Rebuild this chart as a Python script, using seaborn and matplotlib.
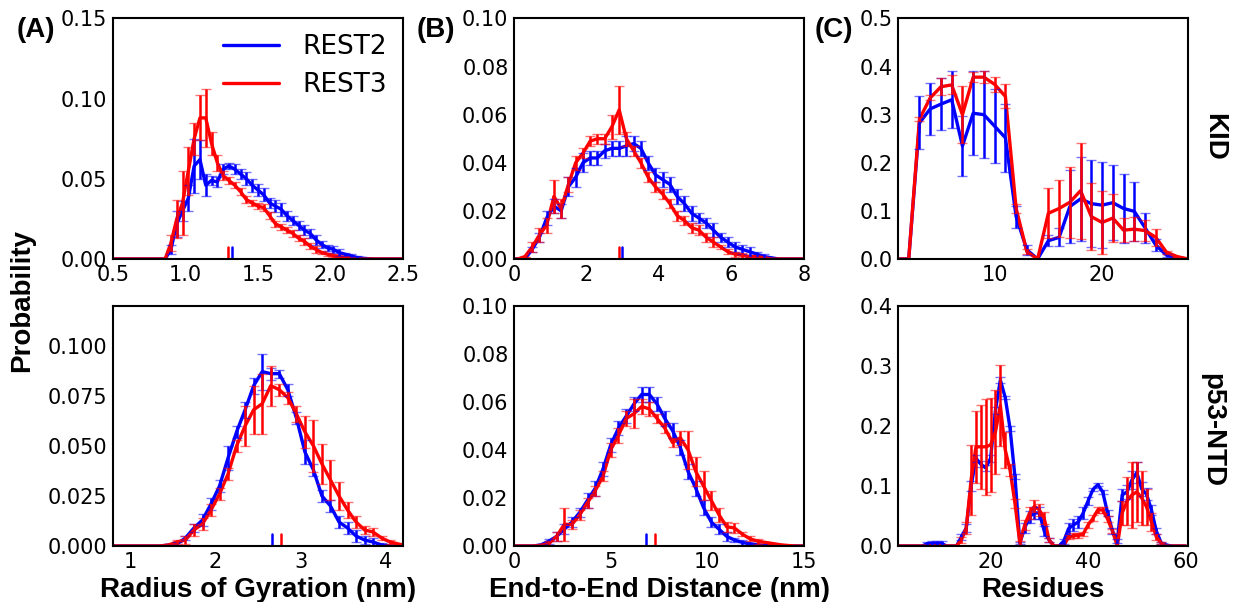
import numpy as np
import pandas as pd
import matplotlib
matplotlib.use("Agg")
import matplotlib.pyplot as plt
import seaborn as sns

# ---- KID, radius of gyration (nm)
kid_rg_x = [0.50, 0.82, 0.86, 0.90, 0.94, 0.98, 1.02, 1.06, 1.10, 1.14, 1.18, 1.22, 1.26,
            1.30, 1.34, 1.38, 1.42, 1.46, 1.50, 1.54, 1.58, 1.62, 1.66, 1.70, 1.74, 1.78,
            1.82, 1.86, 1.90, 1.94, 1.98, 2.02, 2.06, 2.10, 2.14, 2.18, 2.22, 2.26, 2.30, 2.50]
kid_rg_rest2 = [0, 0, 0, 0.006, 0.022, 0.030, 0.038, 0.058, 0.062, 0.046, 0.049, 0.048, 0.056,
                0.058, 0.056, 0.053, 0.050, 0.046, 0.043, 0.040, 0.035, 0.033, 0.031, 0.027, 0.024, 0.021,
                0.018, 0.016, 0.012, 0.009, 0.007, 0.006, 0.004, 0.003, 0.002, 0.001, 0.0005, 0.0002, 0, 0]
kid_rg_rest2_err = [0, 0, 0, 0.003, 0.008, 0.006, 0.008, 0.017, 0.012, 0.007, 0.003, 0.003, 0.003,
                    0.002, 0.003, 0.003, 0.004, 0.004, 0.004, 0.004, 0.003, 0.004, 0.004, 0.003, 0.003, 0.003,
                    0.003, 0.003, 0.003, 0.002, 0.002, 0.002, 0.002, 0.001, 0.001, 0.001, 0, 0, 0, 0]
kid_rg_rest3 = [0, 0, 0, 0.010, 0.025, 0.035, 0.055, 0.075, 0.088, 0.088, 0.072, 0.060, 0.052,
                0.049, 0.046, 0.042, 0.037, 0.035, 0.033, 0.032, 0.027, 0.022, 0.020, 0.018, 0.016, 0.013,
                0.011, 0.008, 0.006, 0.004, 0.003, 0.002, 0.0015, 0.001, 0.0005, 0, 0, 0, 0, 0]
kid_rg_rest3_err = [0, 0, 0, 0.005, 0.012, 0.020, 0.015, 0.010, 0.014, 0.018, 0.007, 0.005, 0.003,
                    0.002, 0.002, 0.002, 0.002, 0.002, 0.002, 0.002, 0.002, 0.002, 0.002, 0.002, 0.002, 0.002,
                    0.002, 0.002, 0.002, 0.001, 0.001, 0.001, 0, 0, 0, 0, 0, 0, 0, 0]

# ---- KID, end-to-end distance (nm)
kid_ee_x = [0.0, 0.1, 0.3, 0.5, 0.7, 0.9, 1.1, 1.3, 1.5, 1.7, 1.9, 2.1, 2.3, 2.5, 2.7, 2.9, 3.1,
            3.3, 3.5, 3.7, 3.9, 4.1, 4.3, 4.5, 4.7, 4.9, 5.1, 5.3, 5.5, 5.7, 5.9, 6.1, 6.3,
            6.5, 6.7, 6.9, 7.1, 7.3, 8.0]
kid_ee_rest2 = [0, 0, 0, 0.004, 0.009, 0.017, 0.022, 0.020, 0.030, 0.034, 0.040, 0.042, 0.042,
                0.045, 0.046, 0.046, 0.047, 0.048, 0.046, 0.040, 0.035, 0.033, 0.031, 0.026, 0.023,
                0.019, 0.017, 0.015, 0.012, 0.009, 0.007, 0.005, 0.004, 0.003, 0.002, 0.001, 0.0005, 0, 0]
kid_ee_rest2_err = [0, 0, 0, 0.001, 0.002, 0.003, 0.003, 0.003, 0.004, 0.004, 0.004, 0.003, 0.003,
                    0.003, 0.003, 0.003, 0.004, 0.003, 0.003, 0.003, 0.003, 0.003, 0.003, 0.003, 0.003,
                    0.003, 0.002, 0.002, 0.003, 0.002, 0.002, 0.002, 0.002, 0.002, 0.001, 0.001, 0, 0, 0]
kid_ee_rest3 = [0, 0, 0.001, 0.005, 0.010, 0.014, 0.026, 0.021, 0.031, 0.040, 0.044, 0.049, 0.050,
                0.050, 0.055, 0.062, 0.050, 0.045, 0.040, 0.034, 0.030, 0.027, 0.023, 0.018, 0.016,
                0.013, 0.012, 0.009, 0.007, 0.005, 0.003, 0.002, 0.0015, 0.001, 0.001, 0.0005, 0, 0, 0]
kid_ee_rest3_err = [0, 0, 0, 0.002, 0.003, 0.003, 0.007, 0.004, 0.003, 0.003, 0.002, 0.002, 0.002,
                    0.002, 0.005, 0.010, 0.003, 0.002, 0.002, 0.002, 0.002, 0.002, 0.002, 0.002, 0.002,
                    0.002, 0.002, 0.002, 0.002, 0.001, 0.001, 0.001, 0.001, 0, 0, 0, 0, 0, 0]

# ---- KID, per-residue helicity
kid_res_x = list(range(1, 29))
kid_res_rest2 = [0, 0, 0.283, 0.312, 0.322, 0.331, 0.235, 0.303, 0.300, 0.276, 0.252, 0.088, 0.019, 0,
                 0.038, 0.045, 0.109, 0.125, 0.115, 0.112, 0.117, 0.105, 0.099, 0.065, 0.029, 0.008, 0.002, 0]
kid_res_rest2_err = [0, 0, 0.055, 0.054, 0.054, 0.059, 0.062, 0.087, 0.091, 0.077, 0.071, 0.023, 0.010, 0,
                     0.012, 0.019, 0.075, 0.087, 0.090, 0.089, 0.078, 0.071, 0.061, 0.031, 0.013, 0.003, 0, 0]
kid_res_rest3 = [0, 0, 0.291, 0.335, 0.358, 0.362, 0.300, 0.378, 0.378, 0.363, 0.338, 0.105, 0.015, 0,
                 0.095, 0.105, 0.118, 0.142, 0.088, 0.076, 0.085, 0.060, 0.062, 0.059, 0.045, 0.014, 0.005, 0]
kid_res_rest3_err = [0, 0, 0.005, 0.005, 0.018, 0.020, 0.059, 0.010, 0.012, 0.016, 0.025, 0.010, 0.005, 0,
                     0.052, 0.060, 0.074, 0.100, 0.070, 0.065, 0.050, 0.025, 0.025, 0.022, 0.018, 0.003, 0, 0]

# ---- p53-NTD, radius of gyration (nm)
p53_rg_x = [0.80, 1.35, 1.45, 1.55, 1.65, 1.75, 1.85, 1.95, 2.05, 2.15, 2.25, 2.35, 2.45, 2.55,
            2.65, 2.75, 2.85, 2.95, 3.05, 3.15, 3.25, 3.35, 3.45, 3.55, 3.65, 3.75, 3.85, 3.95,
            4.05, 4.15, 4.20]
p53_rg_rest2 = [0, 0, 0.0005, 0.001, 0.004, 0.009, 0.013, 0.021, 0.030, 0.044, 0.057, 0.068, 0.080, 0.087,
                0.086, 0.086, 0.078, 0.064, 0.047, 0.038, 0.025, 0.020, 0.012, 0.009, 0.005, 0.003, 0.002,
                0.0005, 0, 0, 0]
p53_rg_rest2_err = [0, 0, 0, 0.001, 0.001, 0.002, 0.003, 0.003, 0.003, 0.006, 0.003, 0.004, 0.004, 0.009,
                    0.003, 0.002, 0.003, 0.003, 0.006, 0.003, 0.003, 0.003, 0.003, 0.003, 0.003, 0.002, 0.002,
                    0.001, 0, 0, 0]
p53_rg_rest3 = [0, 0, 0.0005, 0.002, 0.003, 0.008, 0.011, 0.018, 0.026, 0.036, 0.050, 0.060, 0.068, 0.071,
                0.080, 0.078, 0.074, 0.066, 0.057, 0.050, 0.041, 0.033, 0.025, 0.018, 0.012, 0.008, 0.007,
                0.004, 0.002, 0.001, 0.0005]
p53_rg_rest3_err = [0, 0, 0, 0.001, 0.002, 0.003, 0.003, 0.003, 0.003, 0.003, 0.003, 0.010, 0.012, 0.015,
                    0.010, 0.003, 0.003, 0.004, 0.008, 0.013, 0.010, 0.010, 0.007, 0.004, 0.003, 0.002, 0.002,
                    0.001, 0.001, 0, 0]

# ---- p53-NTD, end-to-end distance (nm)
p53_ee_x = [0.0, 0.6, 1.0, 1.4, 1.8, 2.2, 2.6, 3.0, 3.4, 3.8, 4.2, 4.6, 5.0, 5.4, 5.8, 6.2, 6.6,
            7.0, 7.4, 7.8, 8.2, 8.6, 9.0, 9.4, 9.8, 10.2, 10.6, 11.0, 11.4, 11.8, 12.2, 12.6,
            13.0, 13.4, 13.8, 14.2, 14.6, 15.0]
p53_ee_rest2 = [0, 0, 0, 0.0005, 0.002, 0.004, 0.007, 0.010, 0.014, 0.019, 0.024, 0.032, 0.042, 0.049,
                0.054, 0.059, 0.063, 0.063, 0.059, 0.053, 0.048, 0.041, 0.031, 0.024, 0.016, 0.010,
                0.007, 0.004, 0.0025, 0.0015, 0.001, 0.0005, 0.0002, 0, 0, 0, 0, 0]
p53_ee_rest2_err = [0, 0, 0, 0, 0.001, 0.002, 0.002, 0.002, 0.002, 0.003, 0.003, 0.003, 0.003, 0.003,
                    0.003, 0.003, 0.003, 0.003, 0.003, 0.003, 0.003, 0.003, 0.003, 0.003, 0.003, 0.002,
                    0.002, 0.002, 0.001, 0.001, 0, 0, 0, 0, 0, 0, 0, 0]
p53_ee_rest3 = [0, 0, 0, 0.0003, 0.001, 0.004, 0.009, 0.009, 0.013, 0.018, 0.023, 0.029, 0.040, 0.046,
                0.053, 0.055, 0.058, 0.057, 0.053, 0.049, 0.043, 0.045, 0.040, 0.031, 0.025, 0.019,
                0.013, 0.008, 0.0075, 0.005, 0.003, 0.002, 0.0015, 0.001, 0.0005, 0.0002, 0, 0]
p53_ee_rest3_err = [0, 0, 0, 0, 0.001, 0.002, 0.007, 0.002, 0.002, 0.002, 0.002, 0.002, 0.003, 0.003,
                    0.003, 0.006, 0.003, 0.003, 0.002, 0.002, 0.002, 0.003, 0.008, 0.006, 0.006, 0.004,
                    0.003, 0.002, 0.002, 0.001, 0.001, 0.001, 0, 0, 0, 0, 0, 0]

# ---- p53-NTD, per-residue helicity
p53_res_x = list(range(1, 61))
p53_res_rest2 = [0, 0, 0, 0, 0, 0, 0.004, 0.004, 0.004, 0.004, 0, 0, 0, 0.015, 0.030, 0.100, 0.146,
                 0.136, 0.130, 0.146, 0.226, 0.276, 0.247, 0.195, 0.115, 0.005, 0.030, 0.049, 0.055,
                 0.055, 0.025, 0.010, 0, 0, 0.008, 0.029, 0.035, 0.040, 0.055, 0.075, 0.094, 0.102,
                 0.090, 0.055, 0.025, 0.008, 0.085, 0.090, 0.110, 0.122, 0.095, 0.086, 0.060, 0.025,
                 0.005, 0.002, 0, 0, 0, 0]
p53_res_rest2_err = [0, 0, 0, 0, 0, 0, 0.003, 0.004, 0.004, 0.004, 0, 0, 0, 0.005, 0.007, 0.008, 0.006,
                     0.005, 0.005, 0.006, 0.006, 0.005, 0.003, 0.004, 0.004, 0.002, 0.008, 0.010, 0.010,
                     0.010, 0.008, 0.004, 0, 0, 0.004, 0.010, 0.010, 0.010, 0.010, 0.006, 0.003, 0.003,
                     0.003, 0.005, 0.005, 0.003, 0.010, 0.012, 0.015, 0.017, 0.012, 0.010, 0.008, 0.005,
                     0.002, 0, 0, 0, 0, 0]
p53_res_rest3 = [0, 0, 0, 0, 0, 0, 0, 0, 0, 0, 0, 0, 0, 0.010, 0.030, 0.110, 0.165, 0.165, 0.165, 0.168,
                 0.190, 0.234, 0.160, 0.126, 0.071, 0.005, 0.035, 0.055, 0.066, 0.060, 0.046, 0.010,
                 0, 0, 0, 0.015, 0.017, 0.018, 0.020, 0.035, 0.046, 0.060, 0.060, 0.045, 0.025, 0,
                 0.055, 0.075, 0.085, 0.090, 0.080, 0.065, 0.040, 0.015, 0.005, 0, 0, 0, 0, 0]
p53_res_rest3_err = [0, 0, 0, 0, 0, 0, 0, 0, 0, 0, 0, 0, 0, 0.005, 0.010, 0.058, 0.060, 0.070, 0.080,
                     0.078, 0.070, 0.067, 0.030, 0.010, 0.008, 0.003, 0.008, 0.010, 0.010, 0.010, 0.010,
                     0.004, 0, 0, 0, 0.004, 0.004, 0.004, 0.004, 0.005, 0.005, 0.005, 0.005, 0.005, 0.004,
                     0, 0.020, 0.040, 0.055, 0.050, 0.045, 0.030, 0.015, 0.005, 0.002, 0, 0, 0, 0, 0]

# mean values marked by short ticks at the bottom of the distribution panels
kid_rg_mean = [1.32, 1.295]
kid_ee_mean = [2.97, 2.90]
p53_rg_mean = [2.67, 2.77]
p53_ee_mean = [6.85, 7.28]

methods = ["REST2", "REST3"]
colors = {"REST2": "blue", "REST3": "red"}

sns.set_style("white")
plt.rcParams["font.family"] = ["DejaVu Sans"]
for key in ["text.color", "axes.labelcolor", "xtick.color", "ytick.color"]:
    plt.rcParams[key] = "black"
label_font = dict(family="Liberation Sans", weight="bold", size=20, color="black")

fig = plt.figure(figsize=(12.33, 6.02), dpi=100)

col_left = [0.0916, 0.4169, 0.7283]
row_bottom = [0.5698, 0.0930]
ax_w, ax_h = 0.2352, 0.3995


def draw_panel(ax, x, ys, errs, means, xlim, xticks, ylim, yticks, yfmt, legend=False):
    df = pd.concat([pd.DataFrame({"x": x, "p": y, "method": m}) for m, y in zip(methods, ys)])
    sns.lineplot(data=df, x="x", y="p", hue="method", palette=colors, ax=ax,
                 linewidth=2.4, legend=legend, estimator=None, sort=False)
    for m, y, e in zip(methods, ys, errs):
        _, caps, _ = ax.errorbar(x, y, yerr=e, fmt="none", ecolor=colors[m], elinewidth=1.8,
                                 capsize=3.5, capthick=1.0)
        for c in caps:
            c.set_alpha(0.55)
    if means is not None:
        for m, v in zip(methods, means):
            ax.axvline(v, ymin=0, ymax=0.05, color=colors[m], lw=1.8)
    ax.set_xlim(*xlim)
    ax.set_ylim(*ylim)
    ax.set_xticks(xticks)
    ax.set_yticks(yticks)
    ax.set_yticklabels([yfmt.format(t) for t in yticks])
    ax.set_xlabel("")
    ax.set_ylabel("")
    ax.tick_params(direction="in", length=4, width=0.8, color="0.4", labelcolor="black",
                   labelsize=15, top=False, right=False, pad=4)
    for sp in ax.spines.values():
        sp.set_color("black")
        sp.set_linewidth(1.5)
    if legend:
        leg = ax.legend(loc="upper right", frameon=False, fontsize=19,
                        handlelength=2.1, handletextpad=0.9, labelspacing=0.45,
                        borderaxespad=0.2)
        for line in leg.get_lines():
            line.set_linewidth(2.4)
        for t in leg.get_texts():
            t.set_color("black")


axes = [[fig.add_axes([l, b, ax_w, ax_h]) for l in col_left] for b in row_bottom]

draw_panel(axes[0][0], kid_rg_x, [kid_rg_rest2, kid_rg_rest3], [kid_rg_rest2_err, kid_rg_rest3_err],
           kid_rg_mean, (0.5, 2.5), [0.5, 1.0, 1.5, 2.0, 2.5], (0, 0.15), [0, 0.05, 0.10, 0.15],
           "{:.2f}", legend=True)
draw_panel(axes[0][1], kid_ee_x, [kid_ee_rest2, kid_ee_rest3], [kid_ee_rest2_err, kid_ee_rest3_err],
           kid_ee_mean, (0, 8), [0, 2, 4, 6, 8], (0, 0.10), [0, 0.02, 0.04, 0.06, 0.08, 0.10], "{:.2f}")
draw_panel(axes[0][2], kid_res_x, [kid_res_rest2, kid_res_rest3], [kid_res_rest2_err, kid_res_rest3_err],
           None, (1, 28), [10, 20], (0, 0.5), [0, 0.1, 0.2, 0.3, 0.4, 0.5], "{:.1f}")
draw_panel(axes[1][0], p53_rg_x, [p53_rg_rest2, p53_rg_rest3], [p53_rg_rest2_err, p53_rg_rest3_err],
           p53_rg_mean, (0.8, 4.2), [1, 2, 3, 4], (0, 0.12), [0, 0.025, 0.05, 0.075, 0.10], "{:.3f}")
draw_panel(axes[1][1], p53_ee_x, [p53_ee_rest2, p53_ee_rest3], [p53_ee_rest2_err, p53_ee_rest3_err],
           p53_ee_mean, (0, 15), [0, 5, 10, 15], (0, 0.10), [0, 0.02, 0.04, 0.06, 0.08, 0.10], "{:.2f}")
draw_panel(axes[1][2], p53_res_x, [p53_res_rest2, p53_res_rest3], [p53_res_rest2_err, p53_res_rest3_err],
           None, (1, 60.5), [20, 40, 60], (0, 0.4), [0, 0.1, 0.2, 0.3, 0.4], "{:.1f}")

axes[1][0].set_xlabel("Radius of Gyration (nm)", fontdict=label_font, labelpad=4)
axes[1][1].set_xlabel("End-to-End Distance (nm)", fontdict=label_font, labelpad=4)
axes[1][2].set_xlabel("Residues", fontdict=label_font, labelpad=4)

fig.text(0.018, 0.50, "Probability", rotation=90, ha="center", va="center", **label_font)
fig.text(0.9846, 0.772, "KID", rotation=270, ha="center", va="center", **label_font)
fig.text(0.983, 0.286, "p53-NTD", rotation=270, ha="center", va="center", **label_font)
for xpos, lab in zip([0.0138, 0.338, 0.661], ["(A)", "(B)", "(C)"]):
    fig.text(xpos, 0.950, lab, ha="left", va="center", **label_font)

fig.savefig("out.png", dpi=100)
